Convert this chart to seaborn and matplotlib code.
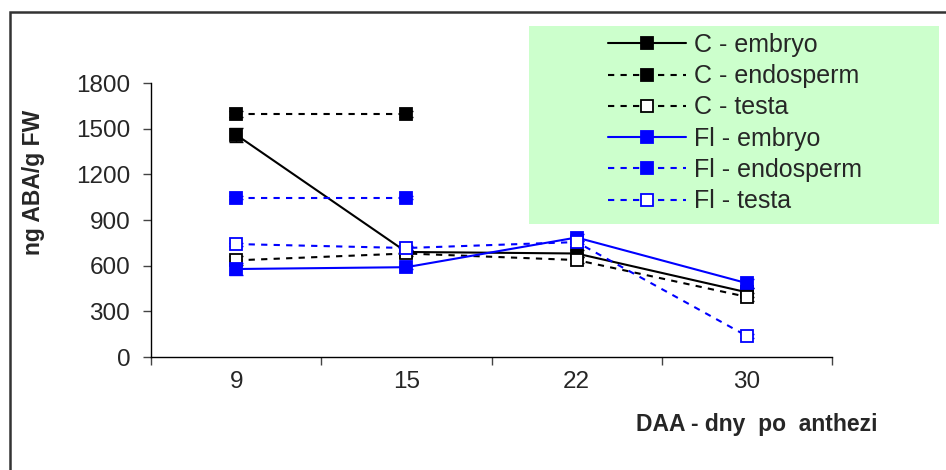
import numpy as np
import pandas as pd
import matplotlib
matplotlib.use("Agg")
import matplotlib.pyplot as plt
import matplotlib.patches as patches
import seaborn as sns

# --- data ---
days = ["9", "15", "22", "30"]

c_embryo = [1460, 690, 680, 425]
c_embryo_err = [45, 15, 20, 30]
c_endosperm = [1595, 1595]
c_endosperm_err = [20, 20]
c_testa = [635, 680, 637, 395]
c_testa_err = [30, 15, 20, 25]
fl_embryo = [578, 590, 785, 485]
fl_embryo_err = [40, 15, 20, 30]
fl_endosperm = [1045, 1045]
fl_endosperm_err = [10, 10]
fl_testa = [742, 716, 755, 138]
fl_testa_err = [10, 10, 10, 10]

series = [
    ("C - embryo", c_embryo, c_embryo_err, "black", "-", "black"),
    ("C - endosperm", c_endosperm, c_endosperm_err, "black", (0, (3, 3)), "black"),
    ("C - testa", c_testa, c_testa_err, "black", (0, (3, 3)), "white"),
    ("Fl - embryo", fl_embryo, fl_embryo_err, "#0000FF", "-", "#0000FF"),
    ("Fl - endosperm", fl_endosperm, fl_endosperm_err, "#0000FF", (0, (3, 3)), "#0000FF"),
    ("Fl - testa", fl_testa, fl_testa_err, "#0000FF", (0, (3, 3)), "white"),
]

sns.set_style("white")
plt.rcParams["font.family"] = ["Liberation Sans", "DejaVu Sans"]

fig = plt.figure(figsize=(9.46, 4.70), dpi=100)
W, H = 946, 470
ax = fig.add_axes([151 / W, 1 - 357 / H, (832 - 151) / W, (357 - 83) / H])

# outer frame of the picture
fig.patches.append(patches.Rectangle((10 / W, -0.02), 1.0, 1 - 12 / H + 0.02,
                                     transform=fig.transFigure, fill=False,
                                     edgecolor="#333333", linewidth=1.8))
# green legend box
fig.patches.append(patches.Rectangle((529 / W, 1 - 224 / H), 410 / W, 198 / H,
                                     transform=fig.transFigure,
                                     facecolor="#CCFFCC", edgecolor="none"))

for name, vals, errs, col, ls, mfc in series:
    df = pd.DataFrame({"pos": np.arange(len(vals)), "val": vals})
    ax.errorbar(df["pos"], df["val"], yerr=errs, fmt="none", ecolor=col,
                elinewidth=1.0, capsize=5, capthick=1.0, zorder=2)
    sns.lineplot(data=df, x="pos", y="val", ax=ax, color=col, linestyle=ls,
                 linewidth=1.5, marker="s", markersize=8, markerfacecolor=mfc,
                 markeredgecolor=col, markeredgewidth=1.3, label=name,
                 legend=False, zorder=3)

ax.set_xlim(-0.5, 3.5)
ax.set_ylim(0, 1800)
ax.set_yticks(np.arange(0, 1801, 300))
ax.set_xticks(range(len(days)))
ax.set_xticklabels(days)
ax.set_xticks(np.arange(-0.5, 3.6, 1.0), minor=True)
ax.tick_params(axis="x", which="major", length=0, pad=10, labelsize=17.5)
ax.tick_params(axis="x", which="minor", length=6, width=1.0, color="#444444",
               direction="out", bottom=True)
ax.tick_params(axis="y", length=6, width=1.0, color="#444444", direction="out",
               left=True, pad=9, labelsize=17.5)
ax.set_xlabel("")
ax.set_ylabel("")

for s in ["top", "right"]:
    ax.spines[s].set_visible(False)
for s in ["left", "bottom"]:
    ax.spines[s].set_color("black")
    ax.spines[s].set_linewidth(1.0)

fig.text(34 / W, 1 - 182 / H, "ng ABA/g FW", rotation=90, ha="center",
         va="center", fontsize=16.5, fontweight="bold")
fig.text(757 / W, 1 - 425 / H, "DAA - dny  po  anthezi", ha="center",
         va="center", fontsize=16.5, fontweight="bold")

handles, labels = ax.get_legend_handles_labels()
fig.legend(handles, labels, loc="upper left",
           bbox_to_anchor=(608 / W, 1 - 33 / H), frameon=False, fontsize=18,
           handlelength=3.1, handletextpad=0.36, labelspacing=0.29,
           borderaxespad=0, borderpad=0, numpoints=1)

fig.savefig("out.png", dpi=100)
